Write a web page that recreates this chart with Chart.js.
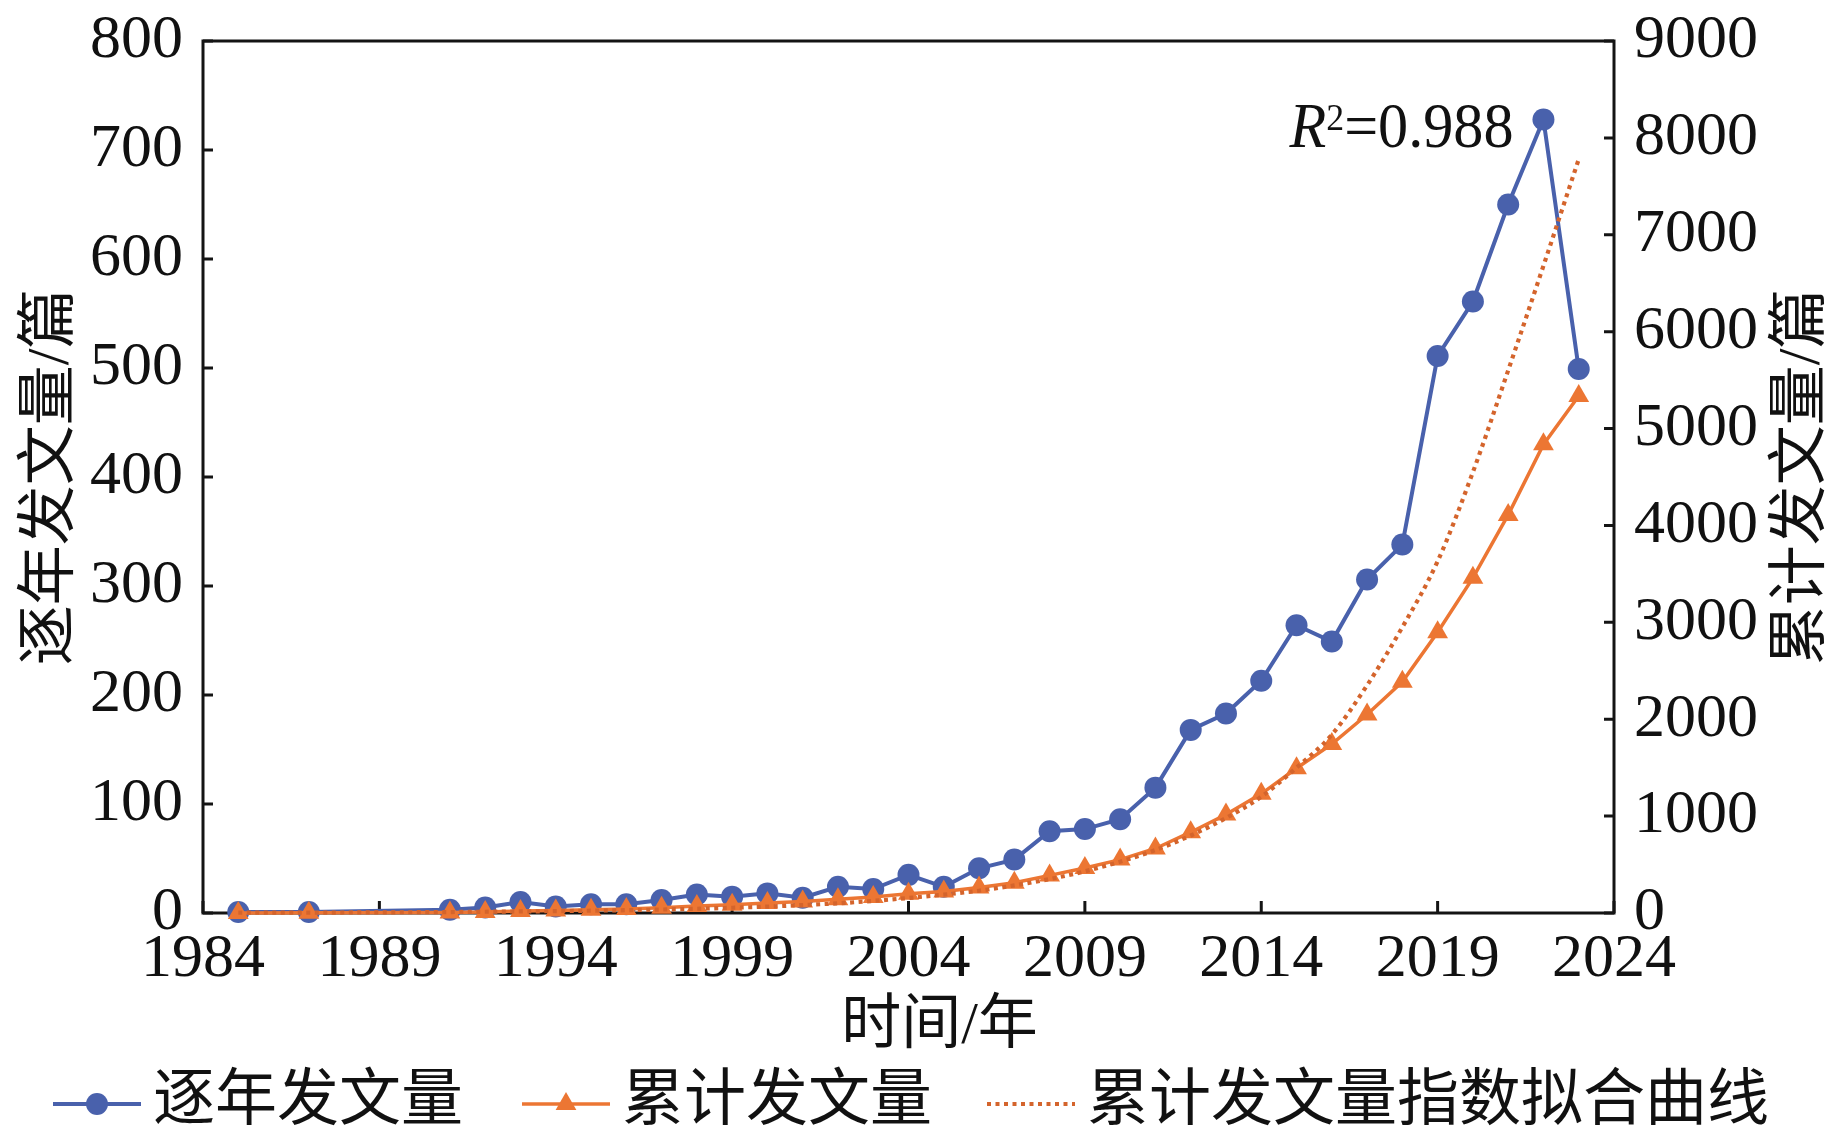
<!DOCTYPE html>
<html>
<head>
<meta charset="utf-8">
<script src="https://cdn.jsdelivr.net/npm/chart.js@4.4.1/dist/chart.umd.min.js"></script>
<style>
  html, body { margin: 0; padding: 0; background: #ffffff; }
  #wrap { width: 1838px; height: 1143px; position: relative; }
  canvas { display: block; }
</style>
</head>
<body>
<div id="wrap"><canvas id="c" width="1838" height="1143"></canvas></div>
<script>
// ---------------- data ----------------
const years = [1985, 1987, 1991, 1992, 1993, 1994, 1995, 1996, 1997, 1998, 1999, 2000,
  2001, 2002, 2003, 2004, 2005, 2006, 2007, 2008, 2009, 2010, 2011, 2012, 2013, 2014,
  2015, 2016, 2017, 2018, 2019, 2020, 2021, 2022, 2023];
const yearlyCount = [1, 1, 3, 5, 10, 6, 8, 8, 12, 17, 15, 18,
  14, 24, 22, 35, 24, 41, 49, 75, 77, 86, 115, 168, 183, 213,
  264, 249, 306, 338, 511, 561, 650, 728, 499];
const cumulativeCount = [1, 2, 5, 10, 20, 26, 34, 42, 54, 71, 86, 104,
  118, 142, 164, 199, 223, 264, 313, 388, 465, 551, 666, 834, 1017, 1230,
  1494, 1743, 2049, 2387, 2898, 3459, 4109, 4837, 5336];
const fitYears = [1985, 1986, 1987, 1988, 1989, 1990, 1991, 1992, 1993, 1994, 1995, 1996,
  1997, 1998, 1999, 2000, 2001, 2002, 2003, 2004, 2005, 2006, 2007, 2008, 2009, 2010,
  2011, 2012, 2013, 2014, 2015, 2016, 2017, 2018, 2019, 2020, 2021, 2022, 2023];
const fitValues = [3, 3, 4, 5, 7, 8, 10, 13, 16, 19, 24, 29,
  36, 44, 54, 66, 82, 100, 125, 155, 190, 230, 285, 350, 430, 530,
  650, 800, 980, 1200, 1500, 1840, 2350, 2950, 3630, 4550, 5600, 6680, 7780];

const xRange = [1984, 2024];
const xStep = 5;
const leftRange = [0, 800];
const leftStep = 100;
const rightRange = [0, 9000];
const rightStep = 1000;

const seriesNames = ['逐年发文量', '累计发文量', '累计发文量指数拟合曲线'];
const xTitle = '时间/年';
const leftTitle = '逐年发文量/篇';
const rightTitle = '累计发文量/篇';
const r2Label = ['R', '2', '=0.988'];
const r2Anchor = [2021.15, 703];   // (year, left-axis value) where the label ends

// ---------------- styles ----------------
const BLUE = '#4961ac';
const ORANGE = '#ec7633';
const DOT = '#d4642c';
const SERIF = '"Liberation Serif", "Times New Roman", serif';
const CJK = '"Liberation Serif", "Noto Sans CJK SC", serif';

const pts = (xs, ys) => xs.map((x, i) => ({ x: x, y: ys[i] }));

const deco = {
  id: 'deco',
  beforeDatasetsDraw(chart) {
    const { ctx, chartArea: a, scales } = chart;
    ctx.save();
    ctx.strokeStyle = '#141414';
    ctx.lineWidth = 3;
    ctx.strokeRect(a.left, a.top, a.right - a.left, a.bottom - a.top);
    ctx.beginPath();
    scales.y.ticks.forEach(t => {
      const p = scales.y.getPixelForValue(t.value);
      ctx.moveTo(a.left, p); ctx.lineTo(a.left + 10, p);
    });
    scales.y2.ticks.forEach(t => {
      const p = scales.y2.getPixelForValue(t.value);
      ctx.moveTo(a.right, p); ctx.lineTo(a.right - 10, p);
    });
    scales.x.ticks.forEach(t => {
      const p = scales.x.getPixelForValue(t.value);
      ctx.moveTo(p, a.bottom); ctx.lineTo(p, a.bottom - 12);
    });
    ctx.stroke();
    ctx.restore();
  },
  afterDraw(chart) {
    const { ctx, chartArea: a, scales } = chart;
    ctx.save();
    ctx.fillStyle = '#111';
    // x title
    ctx.font = '60px ' + CJK;
    ctx.textAlign = 'center';
    ctx.textBaseline = 'middle';
    ctx.fillText(xTitle, (a.left + a.right) / 2 + 31, 1027);
    // right title (rotated like the left one)
    ctx.save();
    ctx.translate(1803, (a.top + a.bottom) / 2);
    ctx.rotate(-Math.PI / 2);
    ctx.fillText(rightTitle, 0, 0);
    ctx.restore();

    // R^2 label
    const ax = scales.x.getPixelForValue(r2Anchor[0]);
    const ay = scales.y.getPixelForValue(r2Anchor[1]);
    const sx = 0.94;
    ctx.save();
    ctx.translate(ax, ay);
    ctx.scale(sx, 1);
    ctx.textAlign = 'left';
    ctx.textBaseline = 'alphabetic';
    const fR = 'italic 64px ' + SERIF, fS = '38px ' + SERIF, fN = '64px ' + SERIF;
    ctx.font = fR; const wR = ctx.measureText(r2Label[0]).width;
    ctx.font = fS; const wS = ctx.measureText(r2Label[1]).width;
    ctx.font = fN; const wN = ctx.measureText(r2Label[2]).width;
    let x0 = -(wR + wS + wN);
    ctx.font = fR; ctx.fillText(r2Label[0], x0, 0); x0 += wR;
    ctx.font = fS; ctx.fillText(r2Label[1], x0, -17); x0 += wS;
    ctx.font = fN; ctx.fillText(r2Label[2], x0, 0);
    ctx.restore();

    // legend
    const ly = 1104;
    const itemX = [53, 522, 987];
    const lineLen = 88, gapText = 12;
    ctx.font = '62px ' + CJK;
    ctx.textBaseline = 'middle';
    chart.data.datasets.forEach((ds, i) => {
      const lx = itemX[i];
      ctx.save();
      ctx.strokeStyle = ds.borderColor;
      ctx.lineWidth = ds.borderWidth;
      ctx.setLineDash(ds.borderDash || []);
      ctx.beginPath();
      ctx.moveTo(lx, ly); ctx.lineTo(lx + lineLen, ly);
      ctx.stroke();
      ctx.setLineDash([]);
      ctx.fillStyle = ds.pointBackgroundColor || ds.borderColor;
      const cx = lx + lineLen / 2;
      if (ds.pointStyle === 'circle' && ds.pointRadius > 0) {
        ctx.beginPath(); ctx.arc(cx, ly, ds.pointRadius, 0, Math.PI * 2); ctx.fill();
      } else if (ds.pointStyle === 'triangle' && ds.pointRadius > 0) {
        const r = ds.pointRadius;
        ctx.beginPath();
        ctx.moveTo(cx, ly - r);
        ctx.lineTo(cx + r * Math.sin(Math.PI * 2 / 3), ly - r * Math.cos(Math.PI * 2 / 3));
        ctx.lineTo(cx + r * Math.sin(Math.PI * 4 / 3), ly - r * Math.cos(Math.PI * 4 / 3));
        ctx.closePath(); ctx.fill();
      }
      ctx.restore();
      ctx.fillStyle = '#111';
      ctx.textAlign = 'left';
      ctx.fillText(ds.label, lx + lineLen + gapText, ly);
    });
    ctx.restore();
  }
};

new Chart(document.getElementById('c'), {
  type: 'line',
  data: {
    datasets: [
      {
        label: seriesNames[0], data: pts(years, yearlyCount), yAxisID: 'y',
        borderColor: BLUE, backgroundColor: BLUE, pointBackgroundColor: BLUE,
        borderWidth: 4, pointRadius: 11, pointBorderWidth: 0, pointStyle: 'circle',
        tension: 0, order: 2, clip: false
      },
      {
        label: seriesNames[1], data: pts(years, cumulativeCount), yAxisID: 'y2',
        borderColor: ORANGE, backgroundColor: ORANGE, pointBackgroundColor: ORANGE,
        borderWidth: 3.5, pointRadius: 12, pointBorderWidth: 0, pointStyle: 'triangle',
        tension: 0, order: 1, clip: false
      },
      {
        label: seriesNames[2], data: pts(fitYears, fitValues), yAxisID: 'y2',
        borderColor: DOT, backgroundColor: DOT, borderWidth: 4.2, borderDash: [4, 4.5],
        pointRadius: 0, pointStyle: false, tension: 0.4, cubicInterpolationMode: 'monotone',
        order: 0, clip: false
      }
    ]
  },
  options: {
    responsive: false,
    animation: false,
    devicePixelRatio: 1,
    layout: { padding: { top: 41, left: 0, right: 0, bottom: 80 } },
    plugins: { legend: { display: false }, tooltip: { enabled: false } },
    scales: {
      x: {
        type: 'linear', position: 'bottom', min: xRange[0], max: xRange[1],
        grid: { display: false, drawTicks: false }, border: { display: false },
        ticks: { stepSize: xStep, padding: 10, color: '#111', font: { family: SERIF, size: 62 },
          maxRotation: 0, autoSkip: false, callback: v => String(v) },
        afterFit: s => { s.height = 150; }
      },
      y: {
        type: 'linear', position: 'left', min: leftRange[0], max: leftRange[1],
        grid: { display: false, drawTicks: false }, border: { display: false },
        ticks: { stepSize: leftStep, padding: 20, color: '#111',
          font: { family: SERIF, size: 62, lineHeight: 0.6 },
          callback: v => String(v) },
        title: { display: true, text: leftTitle, color: '#111',
          font: { family: CJK, size: 60, lineHeight: 1 }, padding: { top: 22, bottom: 0 } },
        afterFit: s => { s.width = 203; }
      },
      y2: {
        type: 'linear', position: 'right', min: rightRange[0], max: rightRange[1],
        grid: { display: false, drawTicks: false }, border: { display: false },
        ticks: { stepSize: rightStep, padding: 20, color: '#111',
          font: { family: SERIF, size: 62, lineHeight: 0.6 },
          callback: v => String(v) },
        afterFit: s => { s.width = 224; }
      }
    }
  },
  plugins: [deco]
});
</script>
</body>
</html>
